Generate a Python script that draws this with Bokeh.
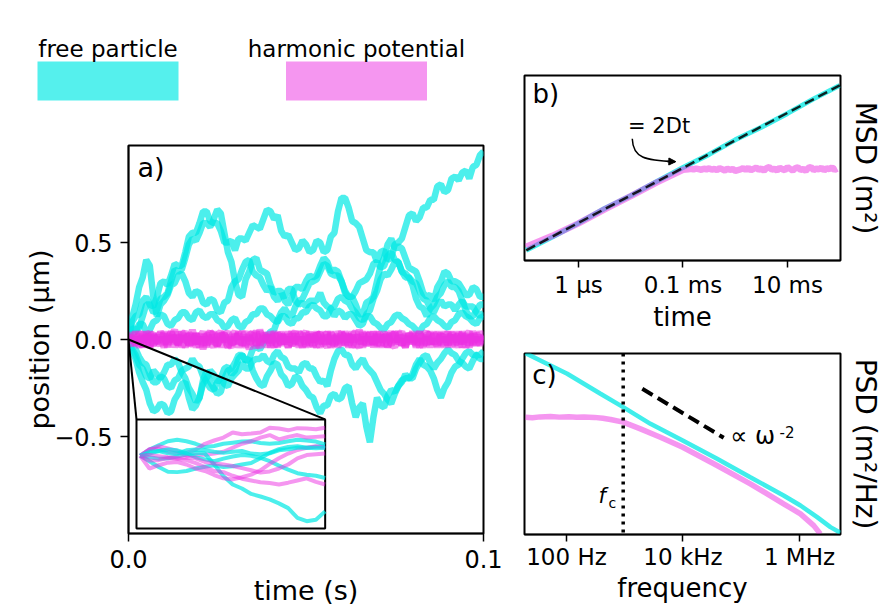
import numpy as np
from bokeh.plotting import figure
from bokeh.models import Range1d, Label, Arrow, NormalHead, Span, FixedTicker
from bokeh.layouts import row, column
from bokeh.core.properties import value
from bokeh.embed import file_html
from bokeh.resources import INLINE

FONT = "DejaVu Sans"
CYAN = "#00e8e4"
MAGENTA = "#eb2de1"
CYAN_LEG = "#55f0ed"
MAG_LEG = "#f596f0"

# ---------------- legend ----------------
LEGEND_LABELS = ["free particle", "harmonic potential"]
LEGEND_COLORS = [CYAN_LEG, MAG_LEG]

# ---------------- panel a: trajectories (um) sampled every 1 ms over 0.1 s ----------------
free_traces = {
    "u1": [0.00, 0.06, 0.05, 0.06, 0.12, 0.18, 0.18, 0.17, 0.22, 0.29,
           0.30, 0.28, 0.33, 0.39, 0.38, 0.38, 0.45, 0.53, 0.55, 0.55,
           0.60, 0.66, 0.66, 0.61, 0.60, 0.60, 0.56, 0.50, 0.50, 0.51,
           0.46, 0.52, 0.52, 0.51, 0.55, 0.59, 0.58, 0.57, 0.62, 0.67,
           0.66, 0.62, 0.64, 0.56, 0.53, 0.54, 0.50, 0.46, 0.47, 0.51,
           0.49, 0.45, 0.46, 0.51, 0.50, 0.45, 0.46, 0.53, 0.55, 0.66,
           0.73, 0.73, 0.68, 0.61, 0.60, 0.58, 0.52, 0.46, 0.45, 0.45,
           0.40, 0.45, 0.46, 0.41, 0.42, 0.49, 0.50, 0.52, 0.58, 0.64,
           0.65, 0.61, 0.63, 0.68, 0.68, 0.72, 0.72, 0.79, 0.80, 0.76,
           0.77, 0.83, 0.84, 0.82, 0.86, 0.87, 0.83, 0.89, 0.90, 0.95,
           0.97],
    "u2": [0.00, 0.09, 0.12, 0.13, 0.20, 0.22, 0.18, 0.14, 0.15, 0.21,
           0.22, 0.24, 0.30, 0.36, 0.35, 0.36, 0.42, 0.49, 0.52, 0.51,
           0.55, 0.60, 0.60, 0.58, 0.62, 0.67, 0.65, 0.55, 0.45, 0.40,
           0.30, 0.23, 0.22, 0.31, 0.35, 0.41, 0.42, 0.36, 0.35, 0.34,
           0.28, 0.24, 0.25, 0.25, 0.20, 0.18, 0.22, 0.27, 0.27, 0.26,
           0.30, 0.33, 0.32, 0.33, 0.38, 0.42, 0.40, 0.35, 0.36, 0.35,
           0.30, 0.24, 0.22, 0.22, 0.18, 0.13, 0.13, 0.19, 0.20, 0.22,
           0.30, 0.38, 0.42, 0.49, 0.52, 0.47, 0.48, 0.47, 0.42, 0.37,
           0.36, 0.35, 0.30, 0.24, 0.22, 0.23, 0.20, 0.27, 0.30, 0.35,
           0.34, 0.30, 0.30, 0.29, 0.26, 0.23, 0.23, 0.27, 0.26, 0.22,
           0.22],
    "u3": [0.00, 0.11, 0.18, 0.27, 0.32, 0.41, 0.38, 0.22, 0.12, 0.18,
           0.20, 0.23, 0.28, 0.29, 0.33, 0.34, 0.30, 0.24, 0.22, 0.25,
           0.24, 0.19, 0.18, 0.21, 0.20, 0.15, 0.14, 0.19, 0.20, 0.27,
           0.30, 0.31, 0.36, 0.40, 0.41, 0.35, 0.33, 0.32, 0.28, 0.25,
           0.27, 0.22, 0.20, 0.23, 0.22, 0.26, 0.26, 0.20, 0.18, 0.19,
           0.17, 0.20, 0.20, 0.20, 0.24, 0.19, 0.17, 0.16, 0.12, 0.15,
           0.14, 0.11, 0.13, 0.13, 0.10, 0.07, 0.08, 0.13, 0.15, 0.21,
           0.25, 0.31, 0.34, 0.33, 0.36, 0.40, 0.40, 0.35, 0.34, 0.32,
           0.28, 0.21, 0.17, 0.16, 0.12, 0.16, 0.18, 0.22, 0.24, 0.28,
           0.30, 0.27, 0.27, 0.25, 0.20, 0.17, 0.17, 0.17, 0.14, 0.12,
           0.14],
    "u4": [0.00, 0.03, 0.04, 0.08, 0.08, 0.04, 0.05, 0.09, 0.10, 0.13,
           0.12, 0.08, 0.07, 0.10, 0.11, 0.14, 0.14, 0.11, 0.10, 0.14,
           0.15, 0.12, 0.11, 0.13, 0.13, 0.10, 0.09, 0.06, 0.07, 0.10,
           0.11, 0.07, 0.06, 0.09, 0.10, 0.13, 0.13, 0.16, 0.16, 0.13,
           0.12, 0.10, 0.09, 0.12, 0.12, 0.09, 0.08, 0.11, 0.11, 0.14,
           0.14, 0.17, 0.18, 0.16, 0.15, 0.12, 0.12, 0.16, 0.17, 0.21,
           0.22, 0.20, 0.19, 0.16, 0.14, 0.11, 0.10, 0.12, 0.12, 0.09,
           0.08, 0.06, 0.05, 0.08, 0.09, 0.12, 0.13, 0.11, 0.10, 0.08,
           0.07, 0.05, 0.04, 0.07, 0.08, 0.11, 0.12, 0.10, 0.09, 0.07,
           0.06, 0.09, 0.10, 0.13, 0.14, 0.12, 0.11, 0.09, 0.08, 0.11,
           0.12],
    "l1": [0.00, -0.06, -0.10, -0.17, -0.22, -0.26, -0.33, -0.37, -0.36, -0.33,
           -0.34, -0.38, -0.37, -0.31, -0.28, -0.23, -0.22, -0.30, -0.36, -0.34,
           -0.30, -0.21, -0.16, -0.22, -0.25, -0.28, -0.27, -0.20, -0.16, -0.15,
           -0.12, -0.08, -0.08, -0.11, -0.10, -0.05, -0.04, -0.05, -0.02, 0.02,
           0.04, 0.05, 0.10, 0.14, 0.16, 0.13, 0.12, 0.17, 0.20, 0.21,
           0.25, 0.29, 0.30, 0.31, 0.35, 0.39, 0.38, 0.34, 0.33, 0.33,
           0.30, 0.25, 0.22, 0.22, 0.25, 0.29, 0.30, 0.31, 0.34, 0.39,
           0.40, 0.37, 0.38, 0.43, 0.45, 0.41, 0.40, 0.35, 0.32, 0.32,
           0.30, 0.29, 0.25, 0.21, 0.20, 0.16, 0.14, 0.18, 0.20, 0.17,
           0.18, 0.18, 0.15, 0.18, 0.20, 0.15, 0.12, 0.12, 0.15, 0.18,
           0.18],
    "l2": [0.00, -0.05, -0.08, -0.13, -0.15, -0.19, -0.20, -0.16, -0.18, -0.20,
           -0.17, -0.13, -0.13, -0.10, -0.12, -0.17, -0.20, -0.25, -0.28, -0.32,
           -0.30, -0.23, -0.20, -0.16, -0.18, -0.22, -0.20, -0.15, -0.14, -0.18,
           -0.16, -0.10, -0.08, -0.11, -0.10, -0.16, -0.20, -0.23, -0.24, -0.19,
           -0.16, -0.12, -0.13, -0.18, -0.20, -0.24, -0.23, -0.19, -0.20, -0.24,
           -0.26, -0.29, -0.30, -0.35, -0.38, -0.34, -0.34, -0.29, -0.28, -0.31,
           -0.30, -0.25, -0.24, -0.33, -0.40, -0.35, -0.33, -0.45, -0.53, -0.40,
           -0.30, -0.34, -0.35, -0.29, -0.26, -0.27, -0.24, -0.21, -0.20, -0.20,
           -0.18, -0.13, -0.10, -0.13, -0.14, -0.16, -0.20, -0.26, -0.30, -0.25,
           -0.22, -0.17, -0.14, -0.13, -0.10, -0.07, -0.06, -0.08, -0.08, -0.10,
           -0.10],
    "l3": [0.00, -0.04, -0.05, -0.09, -0.12, -0.13, -0.18, -0.22, -0.22, -0.19,
           -0.20, -0.24, -0.25, -0.21, -0.20, -0.16, -0.15, -0.14, -0.10, -0.13,
           -0.14, -0.19, -0.22, -0.25, -0.26, -0.22, -0.20, -0.23, -0.24, -0.20,
           -0.18, -0.16, -0.12, -0.15, -0.15, -0.11, -0.10, -0.10, -0.08, -0.11,
           -0.12, -0.08, -0.06, -0.09, -0.10, -0.14, -0.15, -0.15, -0.17, -0.13,
           -0.12, -0.15, -0.15, -0.19, -0.22, -0.21, -0.24, -0.16, -0.10, -0.06,
           -0.05, -0.08, -0.08, -0.13, -0.15, -0.12, -0.10, -0.14, -0.16, -0.18,
           -0.22, -0.26, -0.28, -0.31, -0.33, -0.28, -0.24, -0.22, -0.18, -0.20,
           -0.20, -0.15, -0.12, -0.09, -0.08, -0.12, -0.15, -0.12, -0.10, -0.07,
           -0.05, -0.07, -0.08, -0.11, -0.12, -0.14, -0.15, -0.11, -0.08, -0.08,
           -0.06],
}
trap_traces = {
    "m1": [0.00, 0.02, -0.03, 0.04, -0.01, 0.03, -0.04, 0.02, 0.00, -0.03,
           0.04, -0.02, 0.01, 0.05, -0.03, 0.02, -0.04, 0.03, 0.01, -0.02,
           0.03, -0.05, 0.02, 0.04, -0.01, -0.03, 0.03, 0.00, -0.04, 0.02,
           0.04, -0.02, 0.01, -0.04, 0.03, 0.02, -0.03, 0.05, -0.01, 0.02,
           -0.03, 0.04, 0.00, -0.02, 0.03, -0.04, 0.02, 0.04, -0.03, 0.01,
           -0.02, 0.04, -0.04, 0.02, 0.03, -0.01, -0.04, 0.03, 0.01, -0.02,
           0.04, -0.03, 0.02, 0.00, -0.04, 0.05, -0.02, 0.01, 0.03, -0.03,
           0.02, -0.01, 0.04, -0.04, 0.02, 0.03, -0.02, 0.00, -0.04, 0.03,
           0.01, -0.03, 0.04, -0.02, 0.02, -0.04, 0.03, 0.01, -0.02, 0.04,
           -0.03, 0.02, -0.01, 0.03, -0.04, 0.02, 0.04, -0.02, 0.01, -0.03,
           0.02],
    "m2": [0.00, -0.03, 0.01, -0.02, 0.04, -0.04, 0.02, 0.03, -0.02, 0.01,
           -0.04, 0.03, -0.01, 0.02, -0.03, 0.04, 0.00, -0.02, 0.03, -0.04,
           0.01, 0.04, -0.03, 0.02, -0.01, 0.03, -0.04, 0.02, 0.04, -0.02,
           -0.01, 0.03, -0.03, 0.01, -0.05, 0.02, 0.04, -0.02, 0.00, 0.03,
           -0.04, 0.01, 0.03, -0.03, 0.02, -0.01, 0.04, -0.02, 0.01, -0.04,
           0.03, 0.00, -0.03, 0.04, -0.02, 0.02, 0.03, -0.04, 0.01, 0.02,
           -0.03, 0.04, -0.01, 0.02, -0.02, -0.04, 0.03, 0.01, -0.02, 0.04,
           -0.03, 0.00, 0.02, -0.04, 0.03, -0.01, 0.04, -0.03, 0.02, -0.02,
           0.03, -0.04, 0.01, 0.02, -0.03, 0.04, -0.02, 0.00, 0.03, -0.04,
           0.02, 0.01, -0.03, 0.04, -0.02, 0.02, -0.04, 0.03, -0.01, 0.02,
           -0.02],
    "m3": [0.00, 0.03, 0.01, -0.04, 0.02, -0.02, 0.04, -0.03, 0.01, 0.03,
           -0.02, 0.00, 0.04, -0.04, 0.02, -0.01, 0.03, -0.03, 0.05, -0.02,
           0.01, -0.03, 0.03, 0.00, -0.04, 0.02, 0.04, -0.01, 0.02, -0.03,
           0.03, -0.04, 0.01, 0.04, -0.02, 0.00, 0.03, -0.03, 0.02, -0.04,
           0.04, -0.01, -0.03, 0.02, 0.01, -0.04, 0.03, -0.02, 0.04, 0.00,
           -0.03, 0.02, 0.01, -0.04, 0.04, -0.02, 0.02, -0.01, -0.03, 0.04,
           0.01, -0.02, 0.03, -0.04, 0.02, 0.00, 0.04, -0.03, 0.01, -0.02,
           0.03, -0.04, 0.02, 0.01, -0.03, 0.04, -0.01, 0.02, -0.04, 0.03,
           -0.02, 0.00, 0.04, -0.03, 0.01, -0.02, 0.03, -0.04, 0.02, 0.01,
           -0.03, 0.04, -0.02, 0.00, 0.03, -0.04, 0.01, 0.02, -0.03, 0.04,
           0.00],
    "m4": [0.00, -0.01, 0.04, -0.03, 0.00, 0.02, -0.04, 0.03, -0.02, 0.04,
           0.01, -0.03, 0.02, -0.02, 0.04, -0.04, 0.01, 0.02, -0.03, 0.03,
           -0.02, 0.01, -0.04, 0.04, 0.02, -0.03, 0.00, 0.03, -0.02, -0.04,
           0.02, 0.01, 0.04, -0.03, 0.02, -0.02, -0.04, 0.04, 0.01, -0.01,
           0.02, -0.04, 0.03, 0.01, -0.02, 0.04, -0.03, 0.00, 0.02, 0.03,
           -0.04, 0.02, -0.01, 0.03, 0.00, -0.03, 0.04, -0.02, 0.02, -0.04,
           0.03, 0.01, -0.03, 0.04, -0.01, 0.02, -0.04, 0.03, 0.00, -0.02,
           0.04, -0.03, 0.01, 0.03, -0.02, -0.04, 0.02, 0.04, -0.03, 0.01,
           -0.01, 0.03, -0.04, 0.02, 0.04, -0.02, 0.00, -0.03, 0.03, -0.01,
           0.04, -0.04, 0.02, 0.01, -0.02, 0.03, -0.03, 0.04, 0.00, -0.02,
           0.01],
    "m5": [0.00, 0.01, -0.02, 0.03, -0.04, 0.04, 0.01, -0.03, 0.02, -0.01,
           0.03, -0.04, 0.04, 0.00, -0.02, 0.02, 0.04, -0.03, -0.01, 0.03,
           -0.04, 0.02, 0.00, -0.02, 0.04, -0.03, 0.02, 0.03, -0.04, 0.01,
           -0.02, 0.04, -0.03, 0.02, 0.00, 0.04, -0.02, -0.04, 0.03, 0.01,
           -0.01, 0.03, -0.04, 0.04, -0.02, 0.01, -0.03, 0.03, -0.04, 0.02,
           0.04, -0.03, 0.03, 0.00, -0.04, 0.02, -0.02, 0.04, -0.03, 0.01,
           -0.01, 0.03, -0.04, 0.02, 0.04, -0.02, 0.01, -0.03, 0.04, -0.04,
           0.02, 0.03, -0.03, 0.00, 0.04, -0.02, 0.02, -0.03, 0.03, -0.01,
           0.04, -0.02, 0.00, -0.04, 0.03, 0.02, -0.02, 0.04, -0.03, 0.01,
           -0.02, 0.03, 0.01, -0.04, 0.04, -0.01, 0.02, -0.03, 0.03, 0.00,
           0.02],
}

# inset: first millisecond, t in us, x in nm
inset_free = [
    [0, 1.7, 2.9, 4.0, 4.4, 4.0, 3.3, 2.4, 2.7, 3.3, 3.6, 3.9, 4.0, 3.5, 3.3, 3.5, 4.0, 4.4, 4.2, 3.9, 3.1],
    [0, -1.5, -3.1, -4.4, -4.5, -4.2, -3.5, -3.0, -2.6, -3.1, -2.9, -2.4, -2.0, -0.7, 0.8, 1.8, 2.4, 2.6, 2.2, 2.5, 2.7],
    [0, -0.4, -0.8, -0.7, -0.2, 0.4, 0.8, 0.6, -2.4, -5.6, -7.9, -9.0, -10.5, -11.2, -12.0, -13.1, -14.4, -17.1, -18.0, -17.6, -15.3],
    [0, 0.6, 1.3, 1.7, 1.5, 0.7, -0.4, -1.0, -1.5, -0.8, -0.2, 0.2, 0.0, -0.6, -1.5, -2.7, -3.8, -4.8, -5.2, -5.5, -6.1],
    [0, 1.1, 1.3, 0.7, 0.6, 1.5, 1.7, 1.5, 1.1, 0.8, 1.1, 1.3, 0.6, 0.4, 0.7, 1.5, 1.8, 2.2, 2.2, 2.1, 2.2],
]
inset_trap = [
    [0, 1.8, 1.9, 1.1, 0.6, 0.8, 1.7, 3.3, 4.2, 5.0, 6.4, 5.9, 6.1, 6.4, 7.7, 7.5, 7.0, 7.6, 7.5, 7.3, 7.7],
    [0, 1.7, 2.6, 2.0, 1.3, 0.0, 0.2, 0.3, 0.6, 1.1, 2.2, 3.3, 4.0, 5.0, 5.7, 4.5, 5.2, 5.7, 5.0, 5.2, 5.4],
    [0, -1.3, -1.2, -0.6, -0.8, -1.2, -2.0, -3.1, -4.2, -4.5, -5.5, -6.3, -6.8, -7.3, -7.5, -7.9, -7.4, -6.8, -6.2, -7.2, -7.9],
    [0, -3.5, -2.6, -1.9, -1.7, -2.4, -3.5, -4.2, -5.3, -6.2, -6.5, -5.9, -5.2, -4.0, -2.2, -0.7, 0.6, 1.6, 2.2, 2.6, 2.2],
    [0, 0.2, -0.1, -0.4, -0.6, -0.5, -0.7, -1.7, -2.1, -2.4, -2.8, -3.4, -4.0, -4.6, -4.3, -3.5, -2.4, -0.7, 0.2, 0.4, 0.6],
]

# ---------------- panel b: MSD ----------------
MSD_UNIT = 1e-17
msd_free_t = [1e-7, 3.16e-7, 1e-6, 3.16e-6, 1e-5, 3.16e-5, 1e-4, 3.16e-4, 1e-3, 3.16e-3, 1e-2, 3.16e-2, 1e-1]
msd_free = [0.0089, 0.0269, 0.0871, 0.295, 0.871, 2.88, 9.12, 27.5, 93.3, 269, 851, 2880, 8910]
msd_trap_t = [1e-7, 3.16e-7, 1e-6, 3.16e-6, 1e-5, 3.16e-5, 5.62e-5, 1e-4] + list(10 ** np.arange(-3.9, -0.99, 0.05))
msd_trap = [0.012, 0.030, 0.085, 0.275, 0.83, 2.63, 4.47, 7.6,
            7.9, 8.2, 7.8, 8.4, 8.0, 7.6, 8.3, 7.9, 8.5, 7.7,
            8.1, 7.4, 8.6, 7.9, 7.2, 8.3, 7.6, 8.1, 7.0, 7.4,
            7.8, 8.7, 7.5, 8.9, 7.3, 8.2, 9.1, 7.6, 8.4, 7.1,
            8.8, 9.4, 7.7, 8.3, 7.2, 9.0, 8.0, 7.4, 9.5, 8.2,
            7.1, 8.7, 9.2, 7.6, 8.1, 7.0, 8.9, 9.6, 7.4, 8.3,
            7.8, 9.1, 7.2, 8.6, 8.0, 9.3, 7.5, 8.4]
fit_b_t = [1e-7, 1e-1]
fit_b = [0.0089, 8900]

# ---------------- panel c: PSD ----------------
psd_free_f = [19.8, 102.8, 383, 940, 2761, 9886, 38460, 143200, 533300, 1.04e6, 2.01e6, 3.40e6, 5.05e6]
psd_free = [6.76e-17, 3.24e-18, 1.70e-19, 2.34e-20, 2.0e-21, 1.70e-22, 1.15e-23, 7.59e-25, 5.13e-26,
            1.17e-26, 2.09e-27, 4.79e-28, 2.09e-28]
psd_trap_f = [19.8, 26, 35, 53.2, 75, 110, 150, 198, 300, 420, 569, 940, 1858, 4093, 9886, 38460,
              143200, 533300, 1.04e6, 1.76e6, 2.28e6]
psd_trap = [5.37e-21, 5.0e-21, 5.6e-21, 5.89e-21, 5.4e-21, 5.75e-21, 5.3e-21, 5.5e-21, 5.2e-21, 4.6e-21,
            3.8e-21, 2.57e-21, 9.55e-22, 2.75e-22, 6.31e-23, 4.27e-24, 2.88e-25, 1.51e-26, 3.39e-27,
            6.03e-28, 1.78e-28]
FC = 940
slope_f = [2.0e3, 5.0e4]
slope_psd = [3.55e-19, 2.57e-22]


def style_axis(ax, tick_size, label_size, tick_out=8):
    ax.axis_label_text_font = FONT
    ax.axis_label_text_font_style = "normal"
    ax.axis_label_text_font_size = label_size
    ax.axis_label_text_color = "black"
    ax.major_label_text_font = FONT
    ax.major_label_text_font_size = tick_size
    ax.major_label_text_color = "black"
    ax.major_tick_out = tick_out
    ax.major_tick_in = 0
    ax.major_tick_line_width = 1.5
    ax.major_tick_line_color = "black"
    ax.minor_tick_line_color = None
    ax.axis_line_color = "black"
    ax.axis_line_width = 1.5


def base(**kw):
    p = figure(output_backend="svg", toolbar_location=None, **kw)
    p.grid.visible = False
    p.outline_line_color = "black"
    p.outline_line_width = 2
    p.outline_line_alpha = 1
    p.background_fill_color = "white"
    p.border_fill_color = "white"
    return p


def note(p, x, y, text, size, style="normal"):
    p.add_layout(Label(x=x, y=y, text=text, text_font=FONT, text_font_size=size,
                       text_font_style=style, text_baseline="alphabetic", text_color="black"))


# ---------------- panel a (with the legend drawn in its top margin) ----------------
pa = base(frame_width=355, frame_height=388, x_range=Range1d(0, 0.1), y_range=Range1d(-1, 1),
          min_border_left=128, min_border_right=20, min_border_top=145, min_border_bottom=72)
for ax in (pa.xaxis[0], pa.yaxis[0]):
    style_axis(ax, "24px", "27px", 8)
    ax.major_label_standoff = 8
pa.yaxis.axis_label_standoff = -4
pa.xaxis.axis_label_standoff = 4
pa.xaxis.ticker = FixedTicker(ticks=[0.0, 0.1])
pa.xaxis.major_label_overrides = {0.0: "0.0", 0.1: "0.1"}
pa.yaxis.ticker = FixedTicker(ticks=[-0.5, 0.0, 0.5])
pa.yaxis.major_label_overrides = {-0.5: "\u22120.5", 0.0: "0.0", 0.5: "0.5"}
pa.xaxis.axis_label = "time (s)"
pa.yaxis.axis_label = "position (\u00b5m)"

for k, v in free_traces.items():
    pa.line(np.linspace(0, 0.1, len(v)), v, line_color=CYAN, line_alpha=0.7, line_width=6.5)
for k, v in trap_traces.items():
    pa.line(np.linspace(0, 0.1, len(v)), v, line_color=MAGENTA, line_alpha=0.55, line_width=7)

# inset box placement (in main data coordinates)
BOX_X = (0.00225, 0.0554)
BOX_Y = (-0.974, -0.412)
IN_X = (-20.0, 1000.0)
IN_Y = (-20.0, 10.0)
kx = (IN_X[1] - IN_X[0]) / (BOX_X[1] - BOX_X[0])
ky = (IN_Y[1] - IN_Y[0]) / (BOX_Y[1] - BOX_Y[0])
pa.extra_x_ranges = {
    "inx": Range1d(IN_X[0] - (BOX_X[0] - 0.0) * kx, IN_X[0] + (0.1 - BOX_X[0]) * kx),
    # legend coordinates: page pixels (frame spans x 128..483)
    "legx": Range1d(128, 483),
}
pa.extra_y_ranges = {
    "iny": Range1d(IN_Y[0] - (BOX_Y[0] + 1.0) * ky, IN_Y[0] + (1.0 - BOX_Y[0]) * ky),
    "legy": Range1d(533, 145),
}

pa.quad(left=BOX_X[0], right=BOX_X[1], bottom=BOX_Y[0], top=BOX_Y[1],
        fill_color="white", line_color="black", line_width=2)
pa.segment(x0=[0, 0], y0=[0, 0], x1=[BOX_X[0], BOX_X[1]], y1=[BOX_Y[1], BOX_Y[1]],
           line_color="black", line_width=2)
T_IN = np.linspace(0, 1000, 21)
for f_tr, m_tr in zip(inset_free, inset_trap):
    pa.line(T_IN, f_tr, line_color=CYAN, line_alpha=0.7, line_width=4,
            x_range_name="inx", y_range_name="iny")
    pa.line(T_IN, m_tr, line_color=MAGENTA, line_alpha=0.5, line_width=4,
            x_range_name="inx", y_range_name="iny")

note(pa, 0.0025, 0.888, "a)", "27px")

# legend (label above a colour block)
leg_cx = [107.5, 356]
pa.quad(left=[c - 70.5 for c in leg_cx], right=[c + 70.5 for c in leg_cx],
        top=[61, 61], bottom=[100, 100], fill_color=LEGEND_COLORS, line_color=None,
        x_range_name="legx", y_range_name="legy", level="overlay")
pa.text(x=leg_cx, y=[48, 48], text=LEGEND_LABELS, text_align="center",
        text_baseline="alphabetic", text_font=value(FONT), text_font_size=value("23px"),
        text_color="black", x_range_name="legx", y_range_name="legy", level="overlay")

# ---------------- panel b ----------------
pb = base(frame_width=316, frame_height=185, x_axis_type="log", y_axis_type="log",
          y_axis_location="right",
          x_range=Range1d(9.27e-8, 0.1033), y_range=Range1d(3.8e-20, 2.04e-13),
          min_border_left=21, min_border_right=40, min_border_top=75, min_border_bottom=80)
style_axis(pb.xaxis[0], "23px", "26px", 7)
pb.xaxis.ticker = FixedTicker(ticks=[1e-6, 1e-4, 1e-2])
pb.xaxis.major_label_overrides = {1e-6: "1 \u00b5s", 1e-4: "0.1 ms", 1e-2: "10 ms"}
pb.xaxis.axis_label = "time"
pb.xaxis.major_label_standoff = 4
pb.xaxis.axis_label_standoff = 1
style_axis(pb.yaxis[0], "0px", "28px", 0)
pb.yaxis.ticker = FixedTicker(ticks=[])
pb.yaxis.axis_line_color = None
pb.yaxis.axis_label = "MSD (m\u00b2)"
pb.yaxis.axis_label_standoff = 8

pb.line(msd_free_t, [v * MSD_UNIT for v in msd_free], line_color=CYAN, line_alpha=0.75, line_width=5)
pb.line(msd_trap_t, [v * MSD_UNIT for v in msd_trap], line_color=MAGENTA, line_alpha=0.5, line_width=6.5)
pb.line(fit_b_t, [v * MSD_UNIT for v in fit_b], line_color="black", line_alpha=0.85,
        line_width=2.5, line_dash="10 5")
pb.bezier(x0=[1.07e-5], y0=[1.02e-15], x1=[7.0e-5], y1=[1.5e-16],
          cx0=[1.1e-5], cy0=[2.0e-16], cx1=[1.9e-5], cy1=[1.66e-16],
          line_color="black", line_width=1.5)
pb.add_layout(Arrow(end=NormalHead(size=7, fill_color="black", line_color="black"),
                    x_start=5.0e-5, y_start=1.52e-16, x_end=7.3e-5, y_end=1.5e-16,
                    line_color="black", line_width=1.5))
note(pb, 8.9e-6, 2.9e-15, "= 2Dt", "21px")
note(pb, 1.32e-7, 4.5e-14, "b)", "26px")

# ---------------- panel c ----------------
pc = base(frame_width=316, frame_height=181, x_axis_type="log", y_axis_type="log",
          y_axis_location="right",
          x_range=Range1d(19.0, 5.06e6), y_range=Range1d(1.62e-28, 6.46e-17),
          min_border_left=21, min_border_right=40, min_border_top=13, min_border_bottom=71)
style_axis(pc.xaxis[0], "23px", "26px", 7)
pc.xaxis.ticker = FixedTicker(ticks=[1e2, 1e4, 1e6])
pc.xaxis.major_label_overrides = {1e2: "100 Hz", 1e4: "10 kHz", 1e6: "1 MHz"}
pc.xaxis.axis_label = "frequency"
pc.xaxis.major_label_standoff = 2
pc.xaxis.axis_label_standoff = 0
style_axis(pc.yaxis[0], "0px", "28px", 0)
pc.yaxis.ticker = FixedTicker(ticks=[])
pc.yaxis.axis_line_color = None
pc.yaxis.axis_label = "PSD (m\u00b2/Hz)"
pc.yaxis.axis_label_standoff = 8

pc.line(psd_free_f, psd_free, line_color=CYAN, line_alpha=0.75, line_width=4.5)
pc.line(psd_trap_f, psd_trap, line_color=MAGENTA, line_alpha=0.5, line_width=5.5)
pc.add_layout(Span(location=FC, dimension="height", line_color="black", line_width=3.5,
                   line_dash="3 5"))
pc.line(slope_f, slope_psd, line_color="black", line_width=4, line_dash="12 6")
note(pc, 6.46e4, 3.1e-22, "\u221d \u03c9", "24px")
note(pc, 4.54e5, 6.3e-22, "-2", "15px")
note(pc, 354, 4.8e-26, "f", "21px", "italic")
note(pc, 525, 1.6e-26, "c", "14px")
note(pc, 25.7, 2.6e-18, "c)", "26px")

layout = row(pa, column(pb, pc))
open("out.html", "w").write(file_html(layout, INLINE))
